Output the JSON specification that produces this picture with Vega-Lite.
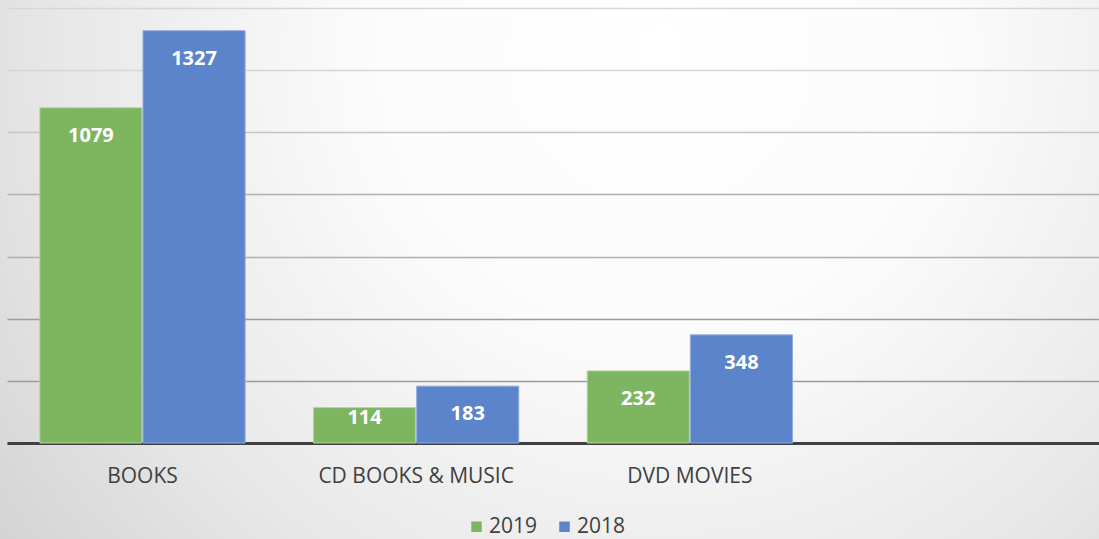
{
  "$schema": "https://vega.github.io/schema/vega-lite/v6.json",
  "width": 1099,
  "height": 539,
  "autosize": "none",
  "padding": 0,
  "background": "#d8d8d8",
  "config": {
    "font": "Open Sans",
    "view": {
      "stroke": null,
      "fill": {
        "gradient": "radial",
        "x1": 0.6, "y1": 0.3, "r1": 0,
        "x2": 0.6, "y2": 0.3, "r2": 0.9,
        "stops": [
          {"offset": 0, "color": "#ffffff"},
          {"offset": 0.3, "color": "#fbfbfb"},
          {"offset": 0.6, "color": "#e8e8e8"},
          {"offset": 0.85, "color": "#d2d2d2"},
          {"offset": 1, "color": "#c6c6c6"}
        ]
      }
    }
  },
  "data": {
    "values": [
      {"category": "BOOKS", "year": "2019", "value": 1079},
      {"category": "BOOKS", "year": "2018", "value": 1327},
      {"category": "CD BOOKS & MUSIC", "year": "2019", "value": 114},
      {"category": "CD BOOKS & MUSIC", "year": "2018", "value": 183},
      {"category": "DVD MOVIES", "year": "2019", "value": 232},
      {"category": "DVD MOVIES", "year": "2018", "value": 348}
    ]
  },
  "encoding": {
    "x": {
      "field": "category",
      "type": "nominal",
      "sort": null,
      "scale": {
        "domain": ["BOOKS", "CD BOOKS & MUSIC", "DVD MOVIES", " "],
        "range": [7, 1099],
        "paddingInner": 0.25,
        "paddingOuter": 0.12
      },
      "axis": {
        "title": null,
        "offset": -96,
        "labelAngle": 0,
        "labelFontSize": 21,
        "labelLimit": 400,
        "labelColor": "#404040",
        "labelPadding": 22,
        "ticks": false,
        "domainColor": "#404040",
        "domainWidth": 3
      }
    },
    "xOffset": {
      "field": "year",
      "sort": ["2019", "2018"],
      "scale": {"paddingInner": 0.01}
    },
    "y": {
      "field": "value",
      "type": "quantitative",
      "scale": {"domain": [0, 1400], "nice": false, "range": [443, 8]},
      "axis": {
        "title": null,
        "labels": false,
        "ticks": false,
        "domain": false,
        "values": [0, 200, 400, 600, 800, 1000, 1200, 1400],
        "gridColor": {
          "condition": [
            {"test": "datum.value <= 400", "value": "#9c9c9c"},
            {"test": "datum.value <= 800", "value": "#b0b0b0"},
            {"test": "datum.value <= 1000", "value": "#c4c4c4"}
          ],
          "value": "#d6d6d6"
        },
        "gridWidth": 1.5
      }
    }
  },
  "layer": [
    {
      "mark": {"type": "bar", "strokeWidth": 1},
      "encoding": {
        "color": {
          "field": "year",
          "type": "nominal",
          "scale": {"domain": ["2019", "2018"], "range": ["#7eb560", "#5b84cb"]},
          "legend": {
            "title": null,
            "orient": "none",
            "legendX": 466,
            "legendY": 516,
            "direction": "horizontal",
            "symbolType": "square",
            "symbolSize": 110,
            "symbolStrokeWidth": 0,
            "labelFontSize": 21,
            "labelOffset": 2,
            "labelColor": "#404040",
            "columnPadding": 16
          }
        },
        "stroke": {
          "field": "year",
          "type": "nominal",
          "scale": {"domain": ["2019", "2018"], "range": ["#b3d69f", "#93acdc"]},
          "legend": null
        }
      }
    },
    {
      "mark": {
        "type": "text",
        "color": "white",
        "fontWeight": "bold",
        "fontSize": 20,
        "baseline": "middle",
        "dy": {"expr": "datum.value < 150 ? 10 : 28"}
      },
      "encoding": {
        "text": {"field": "value", "type": "quantitative"}
      }
    }
  ]
}
